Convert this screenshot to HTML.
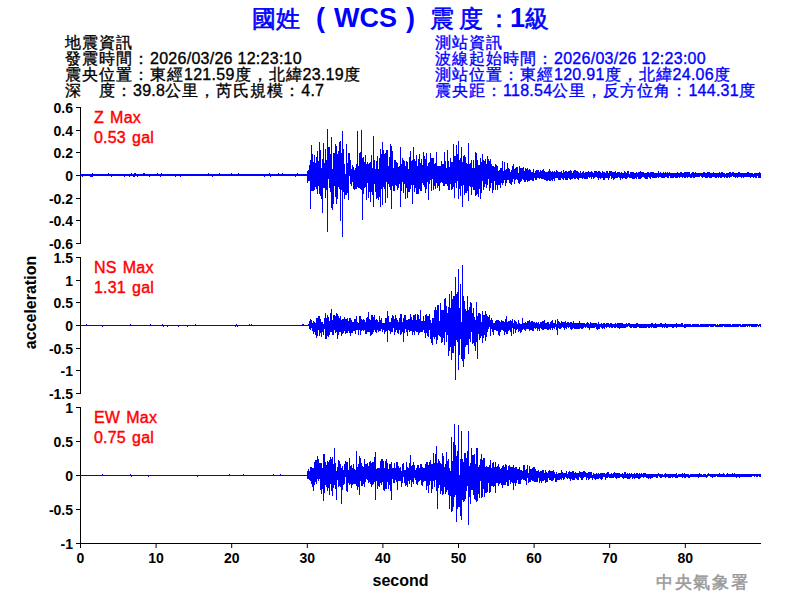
<!DOCTYPE html>
<html><head><meta charset="utf-8">
<style>
html,body{margin:0;padding:0;background:#fff;width:800px;height:600px;overflow:hidden}
svg{display:block}
text{font-family:"Liberation Sans",sans-serif}
.tk{font-size:14px;font-weight:bold;fill:#000}
.inf{font-size:16px;fill:#000}
.infb{font-size:16px;fill:#0000ff}
.red{font-size:16px;fill:#ff0000}
.c{letter-spacing:1px}
.l{letter-spacing:0.27px}
.tc{font-size:24px;stroke:#0000ff;stroke-width:0.6px}
.tl{font-size:27px;font-weight:bold}
.red{letter-spacing:0.2px;word-spacing:1.5px;stroke:#ff0000;stroke-width:0.4px}
.inf{stroke:#000;stroke-width:0.35px}
.infb{stroke:#0000ff;stroke-width:0.35px}
</style></head><body>
<svg width="800" height="600" viewBox="0 0 800 600">
<g style="fill:#0000ff">
<text x="252" y="27" class="tc">國</text>
<text x="276" y="27" class="tc">姓</text>
<text x="316" y="27" class="tl">(</text>
<text x="334" y="27" class="tl">WCS</text>
<text x="406" y="27" class="tl">)</text>
<text x="430" y="27" class="tc">震</text>
<text x="459" y="27" class="tc">度</text>
<text x="487" y="27" class="tc">：</text>
<text x="510" y="27" class="tl">1</text>
<text x="525" y="27" class="tc">級</text>
</g>
<text class="inf" x="65" y="48"><tspan class="c">地震資訊</tspan></text>
<text class="inf" x="65" y="64"><tspan class="c">發震時間：</tspan><tspan class="l">2026/03/26 12:23:10</tspan></text>
<text class="inf" x="65" y="80"><tspan class="c">震央位置：東經</tspan><tspan class="l">121.59</tspan><tspan class="c">度，北緯</tspan><tspan class="l">23.19</tspan><tspan class="c">度</tspan></text>
<text class="inf" x="65" y="96"><tspan class="c">深　度：</tspan><tspan class="l">39.8</tspan><tspan class="c">公里，芮氏規模：</tspan><tspan class="l">4.7</tspan></text>
<text class="infb" x="435" y="48"><tspan class="c">測站資訊</tspan></text>
<text class="infb" x="435" y="64"><tspan class="c">波線起始時間：</tspan><tspan class="l">2026/03/26 12:23:00</tspan></text>
<text class="infb" x="435" y="80"><tspan class="c">測站位置：東經</tspan><tspan class="l">120.91</tspan><tspan class="c">度，北緯</tspan><tspan class="l">24.06</tspan><tspan class="c">度</tspan></text>
<text class="infb" x="435" y="96"><tspan class="c">震央距：</tspan><tspan class="l">118.54</tspan><tspan class="c">公里，反方位角：</tspan><tspan class="l">144.31</tspan><tspan class="c">度</tspan></text>
<path d="M80.5 107 V244" stroke="#000" stroke-width="1"/>
<path d="M76 107.5 H80" stroke="#000" stroke-width="1"/>
<text x="73" y="112.5" text-anchor="end" class="tk">0.6</text>
<path d="M76 130.5 H80" stroke="#000" stroke-width="1"/>
<text x="73" y="135.5" text-anchor="end" class="tk">0.4</text>
<path d="M76 152.5 H80" stroke="#000" stroke-width="1"/>
<text x="73" y="157.5" text-anchor="end" class="tk">0.2</text>
<path d="M76 175.5 H80" stroke="#000" stroke-width="1"/>
<text x="73" y="180.5" text-anchor="end" class="tk">0</text>
<path d="M76 198.5 H80" stroke="#000" stroke-width="1"/>
<text x="73" y="203.5" text-anchor="end" class="tk">-0.2</text>
<path d="M76 220.5 H80" stroke="#000" stroke-width="1"/>
<text x="73" y="225.5" text-anchor="end" class="tk">-0.4</text>
<path d="M76 243.5 H80" stroke="#000" stroke-width="1"/>
<text x="73" y="248.5" text-anchor="end" class="tk">-0.6</text>
<path d="M80.5 257 V394" stroke="#000" stroke-width="1"/>
<path d="M76 257.5 H80" stroke="#000" stroke-width="1"/>
<text x="73" y="262.5" text-anchor="end" class="tk">1.5</text>
<path d="M76 280.5 H80" stroke="#000" stroke-width="1"/>
<text x="73" y="285.5" text-anchor="end" class="tk">1</text>
<path d="M76 302.5 H80" stroke="#000" stroke-width="1"/>
<text x="73" y="307.5" text-anchor="end" class="tk">0.5</text>
<path d="M76 325.5 H80" stroke="#000" stroke-width="1"/>
<text x="73" y="330.5" text-anchor="end" class="tk">0</text>
<path d="M76 348.5 H80" stroke="#000" stroke-width="1"/>
<text x="73" y="353.5" text-anchor="end" class="tk">-0.5</text>
<path d="M76 370.5 H80" stroke="#000" stroke-width="1"/>
<text x="73" y="375.5" text-anchor="end" class="tk">-1</text>
<path d="M76 393.5 H80" stroke="#000" stroke-width="1"/>
<text x="73" y="398.5" text-anchor="end" class="tk">-1.5</text>
<path d="M80.5 407 V544" stroke="#000" stroke-width="1"/>
<path d="M76 407.5 H80" stroke="#000" stroke-width="1"/>
<text x="73" y="412.5" text-anchor="end" class="tk">1</text>
<path d="M76 441.5 H80" stroke="#000" stroke-width="1"/>
<text x="73" y="446.5" text-anchor="end" class="tk">0.5</text>
<path d="M76 475.5 H80" stroke="#000" stroke-width="1"/>
<text x="73" y="480.5" text-anchor="end" class="tk">0</text>
<path d="M76 509.5 H80" stroke="#000" stroke-width="1"/>
<text x="73" y="514.5" text-anchor="end" class="tk">-0.5</text>
<path d="M76 543.5 H80" stroke="#000" stroke-width="1"/>
<text x="73" y="548.5" text-anchor="end" class="tk">-1</text>
<path d="M80 543.5 H761" stroke="#000" stroke-width="1"/>
<path d="M80.5 543 V548" stroke="#000" stroke-width="1"/><text x="80.5" y="563" text-anchor="middle" class="tk">0</text><path d="M156.1 543 V548" stroke="#000" stroke-width="1"/><text x="156.1" y="563" text-anchor="middle" class="tk">10</text><path d="M231.7 543 V548" stroke="#000" stroke-width="1"/><text x="231.7" y="563" text-anchor="middle" class="tk">20</text><path d="M307.3 543 V548" stroke="#000" stroke-width="1"/><text x="307.3" y="563" text-anchor="middle" class="tk">30</text><path d="M382.9 543 V548" stroke="#000" stroke-width="1"/><text x="382.9" y="563" text-anchor="middle" class="tk">40</text><path d="M458.5 543 V548" stroke="#000" stroke-width="1"/><text x="458.5" y="563" text-anchor="middle" class="tk">50</text><path d="M534.1 543 V548" stroke="#000" stroke-width="1"/><text x="534.1" y="563" text-anchor="middle" class="tk">60</text><path d="M609.7 543 V548" stroke="#000" stroke-width="1"/><text x="609.7" y="563" text-anchor="middle" class="tk">70</text><path d="M685.3 543 V548" stroke="#000" stroke-width="1"/><text x="685.3" y="563" text-anchor="middle" class="tk">80</text>
<text class="red" x="94" y="123">Z Max</text>
<text class="red" x="94" y="143">0.53 gal</text>
<text class="red" x="94" y="273">NS Max</text>
<text class="red" x="94" y="293">1.31 gal</text>
<text class="red" x="94" y="423">EW Max</text>
<text class="red" x="94" y="443">0.75 gal</text>
<text x="400.5" y="586" text-anchor="middle" style="font-size:16px;font-weight:bold">second</text>
<text x="35.5" y="302.5" text-anchor="middle" transform="rotate(-90 35.5 302.5)" style="font-size:16px;font-weight:bold">acceleration</text>
<g stroke="#0000ff" stroke-width="1" shape-rendering="crispEdges" fill="none" transform="translate(0.5 0)">
<path d="M80 174V176M81 174V176M82 174V177M83 174V176M84 174V176M85 174V176M86 174V176M87 174V176M88 174V176M89 174V176M90 174V177M91 174V177M92 173V177M93 174V176M94 174V176M95 174V176M96 174V176M97 174V176M98 174V176M99 174V176M100 174V176M101 174V176M102 174V176M103 174V176M104 174V176M105 174V176M106 174V176M107 174V176M108 173V176M109 174V176M110 174V176M111 174V177M112 174V176M113 174V176M114 174V176M115 174V176M116 174V176M117 174V176M118 174V176M119 174V176M120 174V176M121 174V176M122 174V176M123 174V176M124 174V177M125 174V176M126 174V176M127 174V176M128 174V176M129 174V177M130 174V176M131 173V176M132 174V176M133 174V177M134 173V177M135 173V176M136 174V176M137 174V177M138 174V176M139 174V176M140 174V176M141 174V176M142 174V176M143 173V176M144 173V176M145 174V176M146 174V176M147 174V176M148 174V176M149 174V177M150 174V176M151 174V176M152 174V176M153 174V176M154 174V176M155 174V176M156 174V176M157 173V176M158 174V176M159 174V176M160 174V177M161 173V176M162 174V176M163 174V176M164 174V176M165 174V176M166 174V176M167 174V176M168 174V176M169 174V176M170 174V176M171 174V176M172 174V176M173 174V176M174 174V176M175 174V177M176 174V176M177 174V176M178 174V176M179 174V176M180 174V177M181 174V176M182 174V176M183 174V176M184 174V176M185 174V176M186 174V176M187 174V176M188 174V176M189 174V176M190 174V176M191 174V176M192 174V176M193 174V176M194 174V176M195 174V176M196 174V176M197 174V176M198 174V176M199 174V176M200 174V176M201 174V176M202 174V176M203 174V176M204 174V176M205 174V176M206 174V176M207 174V176M208 173V176M209 174V176M210 174V176M211 174V176M212 174V177M213 174V176M214 174V176M215 174V176M216 174V176M217 174V176M218 174V176M219 173V176M220 174V176M221 174V176M222 174V176M223 174V176M224 174V176M225 174V176M226 174V176M227 174V176M228 174V176M229 174V176M230 174V176M231 173V176M232 174V176M233 174V176M234 174V176M235 174V176M236 174V176M237 174V176M238 173V176M239 174V176M240 174V176M241 174V176M242 174V176M243 174V176M244 174V176M245 174V176M246 174V176M247 174V176M248 174V176M249 174V176M250 174V176M251 174V176M252 174V176M253 174V176M254 174V176M255 174V176M256 174V176M257 174V176M258 174V176M259 174V176M260 174V176M261 174V176M262 174V176M263 174V176M264 174V177M265 174V176M266 174V176M267 174V176M268 174V176M269 173V176M270 174V177M271 174V176M272 174V176M273 174V176M274 174V176M275 174V176M276 174V176M277 174V176M278 173V176M279 174V176M280 174V176M281 174V176M282 173V176M283 174V176M284 174V176M285 174V176M286 174V176M287 174V176M288 174V176M289 174V176M290 174V176M291 174V176M292 174V176M293 174V176M294 174V176M295 174V177M296 174V176M297 173V176M298 174V176M299 174V176M300 174V176M301 174V176M302 174V176M303 174V176M304 174V176M305 174V176M306 174V176M307 171V183M308 170V181M309 165V181M310 160V209M311 145V191M312 154V191M313 162V191M314 155V190M315 163V187M316 157V189M317 151V194M318 161V186M319 142V194M320 150V196M321 168V199M322 159V213M323 143V188M324 163V188M325 149V198M326 160V190M327 129V232M328 147V179M329 147V188M330 154V192M331 137V208M332 169V210M333 153V204M334 153V186M335 144V197M336 146V204M337 154V199M338 151V187M339 142V189M340 141V221M341 153V190M342 131V237M343 149V192M344 164V199M345 174V195M346 144V195M347 163V193M348 153V200M349 153V176M350 160V184M351 169V186M352 165V182M353 167V189M354 170V190M355 168V189M356 164V189M357 131V187M358 166V188M359 153V188M360 152V189M361 130V190M362 158V220M363 157V194M364 162V188M365 155V187M366 164V200M367 162V183M368 164V198M369 163V192M370 162V202M371 155V192M372 168V195M373 136V207M374 160V184M375 169V192M376 161V199M377 156V198M378 169V200M379 158V197M380 149V207M381 154V189M382 142V205M383 150V187M384 154V189M385 153V203M386 150V182M387 150V198M388 166V184M389 157V187M390 144V190M391 146V209M392 151V186M393 168V191M394 160V191M395 160V185M396 162V186M397 163V190M398 167V188M399 166V184M400 147V207M401 164V191M402 158V182M403 160V193M404 161V184M405 166V199M406 161V188M407 162V198M408 169V192M409 157V192M410 151V189M411 161V185M412 160V204M413 147V185M414 159V192M415 161V188M416 155V194M417 166V194M418 159V194M419 154V189M420 163V191M421 159V191M422 165V183M423 152V185M424 156V187M425 159V193M426 153V189M427 166V182M428 163V200M429 162V184M430 153V180M431 158V191M432 158V179M433 158V190M434 164V186M435 163V189M436 152V183M437 166V188M438 166V186M439 166V191M440 166V183M441 161V182M442 164V183M443 164V186M444 152V186M445 161V184M446 168V184M447 150V186M448 161V190M449 167V190M450 158V184M451 162V190M452 162V189M453 144V187M454 156V198M455 156V183M456 145V188M457 154V181M458 141V199M459 160V189M460 158V196M461 147V186M462 162V207M463 156V185M464 155V195M465 157V193M466 163V193M467 164V191M468 143V201M469 164V186M470 163V187M471 160V195M472 168V187M473 160V190M474 168V190M475 152V196M476 153V195M477 160V194M478 165V197M479 165V189M480 158V199M481 162V193M482 154V181M483 160V190M484 161V187M485 159V184M486 164V188M487 156V185M488 159V179M489 161V191M490 159V188M491 164V183M492 166V193M493 166V190M494 167V181M495 164V190M496 165V185M497 166V190M498 171V185M499 170V185M500 168V188M501 168V183M502 161V185M503 171V183M504 162V180M505 170V186M506 169V183M507 163V180M508 168V180M509 169V183M510 172V184M511 170V185M512 166V182M513 164V179M514 169V184M515 168V180M516 167V179M517 167V180M518 173V183M519 166V184M520 168V182M521 168V181M522 168V179M523 167V180M524 171V182M525 168V182M526 169V180M527 168V182M528 170V181M529 169V181M530 170V180M531 172V180M532 172V181M533 169V181M534 173V178M535 171V180M536 170V180M537 170V178M538 170V178M539 172V179M540 170V178M541 171V179M542 170V179M543 169V179M544 171V180M545 172V180M546 172V181M547 172V181M548 171V180M549 169V181M550 171V181M551 172V180M552 171V181M553 172V179M554 171V181M555 172V178M556 170V178M557 171V178M558 172V180M559 172V180M560 172V180M561 171V178M562 173V179M563 170V180M564 172V178M565 171V180M566 171V180M567 172V180M568 171V178M569 171V179M570 170V180M571 171V179M572 173V179M573 171V178M574 170V179M575 170V179M576 171V178M577 171V179M578 172V180M579 173V178M580 171V178M581 173V178M582 172V179M583 171V178M584 173V179M585 172V179M586 172V179M587 172V179M588 171V177M589 172V178M590 172V177M591 171V179M592 172V177M593 173V179M594 171V178M595 171V177M596 171V177M597 172V178M598 171V180M599 171V178M600 172V179M601 173V178M602 171V178M603 172V180M604 172V180M605 173V178M606 171V178M607 171V178M608 173V180M609 171V178M610 171V176M611 171V179M612 172V178M613 172V180M614 172V179M615 171V178M616 173V178M617 172V178M618 172V177M619 172V178M620 173V180M621 172V178M622 173V179M623 173V178M624 171V178M625 172V179M626 173V179M627 171V178M628 171V177M629 174V178M630 172V178M631 172V178M632 172V179M633 172V179M634 173V179M635 173V178M636 172V179M637 173V177M638 172V179M639 172V179M640 171V179M641 172V178M642 172V177M643 172V177M644 173V178M645 173V179M646 173V179M647 172V179M648 172V177M649 173V178M650 172V179M651 172V177M652 172V178M653 172V178M654 173V178M655 173V178M656 173V178M657 173V177M658 171V178M659 173V177M660 172V177M661 173V178M662 173V178M663 172V178M664 173V178M665 172V177M666 173V177M667 172V178M668 173V178M669 172V176M670 173V178M671 173V178M672 173V178M673 173V178M674 173V177M675 173V178M676 173V178M677 172V178M678 173V177M679 173V178M680 172V177M681 172V177M682 173V178M683 173V177M684 172V178M685 172V178M686 172V177M687 172V178M688 172V177M689 172V177M690 174V178M691 173V178M692 172V177M693 172V178M694 173V178M695 172V177M696 173V177M697 173V177M698 173V177M699 173V177M700 173V176M701 173V177M702 173V178M703 172V177M704 172V177M705 173V178M706 173V178M707 172V178M708 172V177M709 172V178M710 173V178M711 173V178M712 173V177M713 172V177M714 173V177M715 173V178M716 173V178M717 173V177M718 173V178M719 172V177M720 173V178M721 172V178M722 172V177M723 173V177M724 173V178M725 174V177M726 173V178M727 173V178M728 173V177M729 172V178M730 172V177M731 173V177M732 172V176M733 172V177M734 173V177M735 173V178M736 173V177M737 173V178M738 172V177M739 172V177M740 173V177M741 173V178M742 173V177M743 173V178M744 173V177M745 173V177M746 173V177M747 172V177M748 172V177M749 173V177M750 173V178M751 173V177M752 173V177M753 174V178M754 173V177M755 173V178M756 173V178M757 173V176M758 173V178M759 172V178M760 173V178"/>
<path d="M80 325V326M81 325V326M82 325V326M83 325V326M84 325V326M85 325V326M86 324V326M87 325V326M88 325V326M89 325V326M90 325V326M91 325V326M92 325V326M93 325V326M94 325V326M95 325V326M96 325V326M97 325V326M98 325V326M99 325V326M100 325V326M101 325V326M102 325V327M103 325V326M104 325V326M105 325V326M106 325V326M107 325V326M108 325V326M109 325V326M110 325V326M111 325V326M112 325V326M113 325V326M114 325V326M115 325V326M116 325V326M117 325V326M118 325V326M119 325V326M120 325V326M121 325V326M122 325V326M123 325V326M124 325V326M125 325V326M126 325V326M127 325V326M128 325V326M129 325V326M130 324V326M131 325V326M132 325V326M133 325V326M134 325V326M135 325V326M136 325V326M137 325V326M138 325V326M139 325V326M140 325V326M141 325V326M142 325V326M143 325V326M144 325V326M145 325V326M146 325V326M147 325V326M148 325V326M149 325V326M150 324V326M151 325V326M152 325V326M153 325V326M154 325V326M155 325V326M156 325V326M157 325V326M158 325V326M159 325V326M160 325V326M161 325V326M162 324V326M163 325V327M164 325V326M165 325V326M166 325V326M167 325V327M168 325V326M169 325V326M170 325V326M171 325V326M172 325V326M173 325V326M174 325V326M175 325V326M176 325V326M177 325V326M178 325V327M179 325V326M180 325V326M181 325V326M182 325V326M183 325V326M184 325V326M185 325V326M186 325V326M187 325V327M188 325V326M189 325V326M190 325V326M191 325V326M192 325V326M193 325V326M194 325V326M195 324V326M196 325V326M197 325V326M198 325V326M199 325V326M200 325V326M201 325V326M202 325V326M203 325V326M204 325V326M205 325V326M206 325V326M207 325V326M208 325V326M209 325V326M210 325V326M211 325V326M212 325V326M213 325V326M214 325V326M215 325V326M216 325V326M217 325V326M218 325V326M219 325V326M220 325V326M221 325V326M222 325V326M223 325V326M224 325V326M225 325V326M226 325V326M227 325V326M228 325V326M229 325V326M230 325V326M231 325V326M232 325V326M233 325V326M234 325V326M235 325V327M236 324V326M237 325V327M238 325V326M239 325V326M240 325V326M241 325V326M242 325V326M243 325V326M244 325V326M245 325V326M246 325V326M247 325V326M248 325V326M249 324V326M250 325V326M251 324V326M252 325V326M253 325V326M254 325V326M255 325V326M256 325V326M257 325V326M258 325V326M259 325V326M260 325V326M261 325V326M262 325V326M263 325V326M264 325V326M265 325V326M266 325V326M267 325V326M268 325V326M269 325V326M270 325V326M271 325V326M272 325V326M273 325V326M274 325V326M275 325V326M276 325V326M277 325V326M278 325V326M279 325V326M280 325V326M281 325V326M282 325V326M283 325V326M284 325V326M285 325V326M286 325V326M287 325V326M288 325V326M289 325V326M290 325V326M291 325V326M292 325V326M293 325V326M294 325V326M295 325V326M296 325V326M297 325V326M298 325V326M299 325V326M300 325V326M301 325V326M302 324V326M303 324V326M304 325V326M305 325V326M306 325V326M307 325V326M308 324V326M309 321V329M310 319V330M311 320V328M312 323V331M313 321V334M314 322V332M315 323V335M316 318V338M317 318V336M318 316V330M319 316V336M320 319V333M321 322V337M322 322V332M323 324V335M324 318V329M325 313V339M326 318V339M327 315V336M328 317V337M329 321V335M330 313V332M331 309V332M332 320V335M333 315V335M334 315V330M335 316V333M336 313V332M337 314V339M338 316V335M339 318V332M340 316V332M341 320V336M342 319V334M343 319V333M344 317V331M345 319V334M346 319V333M347 318V333M348 321V331M349 318V333M350 318V336M351 320V333M352 322V333M353 322V331M354 319V331M355 319V334M356 316V330M357 322V330M358 323V335M359 316V330M360 316V335M361 319V331M362 320V330M363 319V331M364 320V330M365 322V334M366 318V334M367 317V332M368 312V332M369 319V332M370 320V336M371 315V335M372 315V334M373 317V332M374 315V330M375 320V332M376 319V333M377 320V330M378 322V332M379 316V331M380 320V331M381 318V329M382 323V332M383 323V330M384 323V334M385 318V332M386 318V331M387 311V342M388 316V330M389 322V331M390 322V334M391 318V332M392 315V332M393 316V328M394 319V335M395 315V332M396 318V330M397 320V333M398 322V334M399 318V330M400 314V335M401 314V334M402 322V332M403 318V342M404 315V333M405 315V329M406 320V332M407 320V336M408 319V330M409 319V332M410 314V331M411 317V331M412 320V335M413 315V332M414 315V335M415 314V331M416 320V332M417 314V332M418 315V335M419 319V333M420 310V332M421 321V332M422 321V332M423 316V330M424 321V333M425 315V338M426 314V333M427 316V336M428 316V337M429 314V330M430 320V339M431 323V343M432 318V345M433 318V337M434 310V339M435 307V337M436 310V344M437 305V340M438 305V335M439 321V336M440 303V337M441 310V343M442 310V342M443 310V338M444 299V345M445 298V332M446 306V342M447 313V335M448 307V356M449 294V351M450 308V347M451 291V360M452 299V353M453 296V353M454 296V346M455 277V380M456 294V340M457 292V342M458 269V370M459 308V355M460 284V339M461 322V359M462 265V361M463 296V367M464 301V359M465 309V347M466 311V345M467 296V345M468 310V354M469 307V339M470 302V342M471 303V332M472 313V344M473 308V343M474 317V346M475 320V351M476 302V342M477 316V359M478 313V334M479 313V340M480 314V338M481 322V336M482 311V343M483 315V338M484 315V335M485 311V341M486 314V337M487 316V332M488 317V329M489 315V327M490 320V336M491 318V329M492 320V332M493 323V335M494 323V330M495 321V330M496 320V331M497 320V331M498 320V335M499 321V336M500 322V332M501 320V330M502 321V330M503 321V331M504 322V335M505 319V332M506 316V334M507 322V334M508 321V331M509 321V330M510 320V332M511 321V336M512 319V328M513 323V334M514 320V329M515 321V333M516 322V330M517 324V329M518 320V332M519 323V331M520 324V333M521 324V332M522 318V330M523 323V329M524 323V330M525 322V331M526 323V329M527 321V329M528 321V329M529 320V331M530 322V330M531 321V330M532 321V331M533 322V331M534 322V328M535 323V329M536 322V328M537 323V331M538 322V329M539 324V331M540 322V328M541 322V329M542 321V330M543 321V330M544 320V329M545 323V329M546 323V329M547 322V330M548 322V330M549 324V329M550 322V330M551 321V328M552 320V330M553 323V328M554 323V329M555 320V327M556 324V330M557 319V335M558 321V328M559 322V329M560 323V329M561 321V328M562 322V327M563 322V328M564 322V330M565 321V328M566 323V329M567 322V327M568 322V328M569 323V327M570 322V329M571 322V330M572 323V329M573 321V328M574 323V329M575 323V329M576 323V329M577 323V329M578 323V329M579 321V329M580 323V328M581 323V329M582 323V329M583 323V328M584 323V327M585 324V328M586 323V327M587 322V328M588 323V328M589 324V330M590 322V328M591 323V328M592 323V328M593 323V328M594 323V328M595 323V327M596 323V329M597 324V330M598 322V329M599 324V329M600 324V327M601 323V328M602 324V329M603 323V328M604 323V329M605 324V327M606 323V328M607 323V327M608 323V327M609 324V328M610 323V327M611 323V328M612 324V328M613 324V327M614 324V328M615 323V328M616 324V327M617 323V328M618 323V328M619 323V329M620 323V328M621 323V328M622 323V328M623 324V328M624 324V328M625 324V328M626 323V327M627 324V327M628 323V326M629 323V327M630 324V328M631 324V328M632 324V327M633 324V328M634 324V328M635 324V328M636 323V328M637 323V327M638 324V327M639 324V328M640 324V328M641 324V328M642 324V328M643 324V328M644 324V328M645 324V328M646 324V328M647 324V327M648 324V328M649 324V328M650 324V327M651 323V328M652 323V327M653 324V328M654 324V328M655 323V328M656 324V328M657 324V327M658 324V327M659 324V327M660 323V327M661 323V327M662 324V328M663 324V327M664 324V328M665 323V327M666 324V328M667 324V328M668 324V327M669 324V327M670 324V327M671 324V327M672 324V328M673 324V328M674 324V327M675 324V327M676 323V328M677 324V327M678 324V327M679 324V327M680 324V327M681 323V327M682 323V327M683 325V327M684 324V328M685 324V328M686 324V327M687 324V327M688 324V327M689 324V327M690 324V327M691 325V327M692 324V327M693 324V327M694 324V327M695 324V327M696 324V327M697 324V327M698 324V327M699 325V327M700 324V327M701 324V327M702 324V327M703 324V327M704 324V327M705 324V327M706 324V327M707 324V327M708 324V327M709 324V326M710 324V327M711 324V327M712 324V327M713 324V327M714 324V326M715 324V327M716 325V327M717 324V327M718 325V327M719 324V327M720 324V327M721 324V327M722 324V327M723 324V326M724 324V327M725 324V327M726 324V327M727 324V327M728 324V327M729 324V327M730 324V327M731 325V327M732 324V327M733 324V327M734 324V327M735 324V327M736 324V327M737 324V327M738 324V327M739 324V326M740 324V327M741 325V327M742 324V327M743 324V327M744 324V327M745 324V327M746 324V326M747 324V327M748 324V326M749 324V327M750 324V326M751 324V327M752 324V327M753 324V327M754 324V327M755 324V327M756 324V327M757 324V326M758 325V327M759 324V326M760 324V327"/>
<path d="M80 475V476M81 475V476M82 475V476M83 475V476M84 475V476M85 475V476M86 475V476M87 475V476M88 475V476M89 475V476M90 475V476M91 475V476M92 475V476M93 475V476M94 475V476M95 475V476M96 475V476M97 475V476M98 475V476M99 475V476M100 475V476M101 475V476M102 474V476M103 475V476M104 475V476M105 475V476M106 475V476M107 475V476M108 475V476M109 475V476M110 475V476M111 475V476M112 475V476M113 475V476M114 475V476M115 475V476M116 475V476M117 475V476M118 475V476M119 475V476M120 475V476M121 475V476M122 475V476M123 475V476M124 475V476M125 475V476M126 475V476M127 475V476M128 475V476M129 475V476M130 474V476M131 475V477M132 475V476M133 475V476M134 475V476M135 475V476M136 475V476M137 475V476M138 475V476M139 475V476M140 475V476M141 475V476M142 475V476M143 475V476M144 475V476M145 475V476M146 475V476M147 475V476M148 475V477M149 475V476M150 475V476M151 475V476M152 475V476M153 475V476M154 475V476M155 475V476M156 475V476M157 475V476M158 475V476M159 475V476M160 475V476M161 475V476M162 475V476M163 475V476M164 475V476M165 475V476M166 475V476M167 475V476M168 475V476M169 475V476M170 475V476M171 475V476M172 475V476M173 475V476M174 475V476M175 475V476M176 475V476M177 475V476M178 475V476M179 475V476M180 475V476M181 475V476M182 475V476M183 475V476M184 475V476M185 475V476M186 475V476M187 475V476M188 475V476M189 475V476M190 475V476M191 475V476M192 475V476M193 475V476M194 475V476M195 475V476M196 475V476M197 475V477M198 475V476M199 475V476M200 475V476M201 475V476M202 475V476M203 475V476M204 475V476M205 475V476M206 475V476M207 475V476M208 475V476M209 475V476M210 475V476M211 475V476M212 475V476M213 475V476M214 475V476M215 475V476M216 475V476M217 475V476M218 475V476M219 475V476M220 475V476M221 475V476M222 475V476M223 475V476M224 475V476M225 475V476M226 475V476M227 475V476M228 475V476M229 474V476M230 475V476M231 475V476M232 475V476M233 475V476M234 475V476M235 475V476M236 475V476M237 475V476M238 475V476M239 475V476M240 475V476M241 475V476M242 475V476M243 474V476M244 475V476M245 475V476M246 475V476M247 475V476M248 475V476M249 475V476M250 475V476M251 475V476M252 475V476M253 475V476M254 475V476M255 475V476M256 475V476M257 475V476M258 475V476M259 475V476M260 475V476M261 475V476M262 475V476M263 475V476M264 475V476M265 475V476M266 475V476M267 475V476M268 475V476M269 475V476M270 475V476M271 475V476M272 475V476M273 474V476M274 475V476M275 475V476M276 475V476M277 475V476M278 475V476M279 475V476M280 474V476M281 475V476M282 475V476M283 475V476M284 475V476M285 475V476M286 475V476M287 475V476M288 475V476M289 475V476M290 475V476M291 475V476M292 475V476M293 475V476M294 475V476M295 475V476M296 475V476M297 475V476M298 475V476M299 475V476M300 475V476M301 475V476M302 475V476M303 475V476M304 475V476M305 475V476M306 475V476M307 471V479M308 469V479M309 471V480M310 467V481M311 467V484M312 468V487M313 468V491M314 462V485M315 460V482M316 460V484M317 456V479M318 459V481M319 463V479M320 463V490M321 463V494M322 468V489M323 454V501M324 454V493M325 462V485M326 465V487M327 461V491M328 462V488M329 460V495M330 457V484M331 459V491M332 457V496M333 464V488M334 448V485M335 463V489M336 471V500M337 467V480M338 460V487M339 461V486M340 464V487M341 468V504M342 466V490M343 470V485M344 464V484M345 461V477M346 462V491M347 462V492M348 470V483M349 458V485M350 466V484M351 465V488M352 468V485M353 464V484M354 469V484M355 470V484M356 451V486M357 467V490M358 464V487M359 456V495M360 458V481M361 463V486M362 466V486M363 467V484M364 459V487M365 464V482M366 464V479M367 463V480M368 466V483M369 462V482M370 461V484M371 463V487M372 462V485M373 462V484M374 457V482M375 452V500M376 469V481M377 468V489M378 468V486M379 468V487M380 461V483M381 459V485M382 459V482M383 461V490M384 468V491M385 461V489M386 459V489M387 463V482M388 469V489M389 464V485M390 464V491M391 462V500M392 468V479M393 468V483M394 463V483M395 468V480M396 462V482M397 462V490M398 466V481M399 468V481M400 467V481M401 471V487M402 464V483M403 463V477M404 470V483M405 470V486M406 462V485M407 467V487M408 468V481M409 463V484M410 455V480M411 466V487M412 465V482M413 462V484M414 465V478M415 470V480M416 468V484M417 465V485M418 465V482M419 468V481M420 464V480M421 464V485M422 467V486M423 468V482M424 468V481M425 464V481M426 462V490M427 462V486M428 465V493M429 462V485M430 460V481M431 464V493M432 464V489M433 453V481M434 463V487M435 454V480M436 446V491M437 463V509M438 459V488M439 461V485M440 463V494M441 464V491M442 453V495M443 456V494M444 467V487M445 464V494M446 452V492M447 461V490M448 459V495M449 468V509M450 471V496M451 437V512M452 461V511M453 442V507M454 424V497M455 445V495M456 456V522M457 451V509M458 425V507M459 475V507M460 459V516M461 431V520M462 459V500M463 462V502M464 453V501M465 453V499M466 458V491M467 451V486M468 431V525M469 466V497M470 463V504M471 448V490M472 455V490M473 455V495M474 454V499M475 464V500M476 448V502M477 448V501M478 467V494M479 465V498M480 459V481M481 454V498M482 460V497M483 458V489M484 458V497M485 467V493M486 466V493M487 467V492M488 467V483M489 465V493M490 460V492M491 468V486M492 463V486M493 462V487M494 467V486M495 462V493M496 467V483M497 466V483M498 464V486M499 467V484M500 469V483M501 468V485M502 466V488M503 465V485M504 467V485M505 464V485M506 465V482M507 470V486M508 466V486M509 465V480M510 467V484M511 467V482M512 467V483M513 465V490M514 468V483M515 467V486M516 467V483M517 469V480M518 469V484M519 467V484M520 470V484M521 470V480M522 471V479M523 465V480M524 465V480M525 470V481M526 469V485M527 465V478M528 473V483M529 466V482M530 469V482M531 469V480M532 468V481M533 467V481M534 467V482M535 469V482M536 471V482M537 471V482M538 470V478M539 472V483M540 471V481M541 471V483M542 470V481M543 470V481M544 473V480M545 470V483M546 472V482M547 473V482M548 471V478M549 470V480M550 471V480M551 471V481M552 471V481M553 470V480M554 472V478M555 474V482M556 472V482M557 474V480M558 473V480M559 473V480M560 473V479M561 470V480M562 472V478M563 473V480M564 473V479M565 473V477M566 471V478M567 474V479M568 472V478M569 471V479M570 472V481M571 472V479M572 471V480M573 471V480M574 473V480M575 472V478M576 473V479M577 473V480M578 473V480M579 471V477M580 472V478M581 472V480M582 472V480M583 471V478M584 471V477M585 472V477M586 473V480M587 473V478M588 472V480M589 472V479M590 472V478M591 472V478M592 475V480M593 473V478M594 474V479M595 474V480M596 473V479M597 474V479M598 473V479M599 474V478M600 473V479M601 473V480M602 473V479M603 473V477M604 473V477M605 474V480M606 473V478M607 472V478M608 472V477M609 474V478M610 474V478M611 473V478M612 474V478M613 473V478M614 472V477M615 473V478M616 473V479M617 473V478M618 473V478M619 473V478M620 474V477M621 474V477M622 473V478M623 474V479M624 472V478M625 472V478M626 474V478M627 473V479M628 474V479M629 473V479M630 474V478M631 473V477M632 474V479M633 474V478M634 473V479M635 474V478M636 473V478M637 473V478M638 474V479M639 473V479M640 474V478M641 473V477M642 474V477M643 473V478M644 473V477M645 473V477M646 474V478M647 474V478M648 474V479M649 474V478M650 474V479M651 474V478M652 474V478M653 474V477M654 474V477M655 474V477M656 474V478M657 474V478M658 473V476M659 474V477M660 474V478M661 474V478M662 474V477M663 475V477M664 474V477M665 473V478M666 474V477M667 474V477M668 474V478M669 474V478M670 474V478M671 474V477M672 474V478M673 474V477M674 474V477M675 474V478M676 473V478M677 475V478M678 474V477M679 474V477M680 474V477M681 474V477M682 473V478M683 474V477M684 473V478M685 474V478M686 474V477M687 474V477M688 474V478M689 475V478M690 474V477M691 474V477M692 474V477M693 474V477M694 474V477M695 474V477M696 474V477M697 474V477M698 474V478M699 473V477M700 474V477M701 474V477M702 475V477M703 474V477M704 474V477M705 474V477M706 475V478M707 474V477M708 473V476M709 474V476M710 474V477M711 474V477M712 474V478M713 474V477M714 474V477M715 474V477M716 474V476M717 474V477M718 474V477M719 473V477M720 474V477M721 474V477M722 474V477M723 473V477M724 474V477M725 475V477M726 474V477M727 473V477M728 474V477M729 474V477M730 474V477M731 474V477M732 473V477M733 474V477M734 473V477M735 474V477M736 474V478M737 474V477M738 474V477M739 474V478M740 474V477M741 474V477M742 474V477M743 474V477M744 474V477M745 474V477M746 474V477M747 474V477M748 474V477M749 474V477M750 474V477M751 474V477M752 474V476M753 474V476M754 474V477M755 474V476M756 474V477M757 474V477M758 474V476M759 474V477M760 474V477"/>
</g>
<text x="656" y="588" style="font-size:16.5px;fill:#999999;stroke:#999999;stroke-width:0.5px;letter-spacing:1.7px">中央氣象署</text>
</svg>
</body></html>
